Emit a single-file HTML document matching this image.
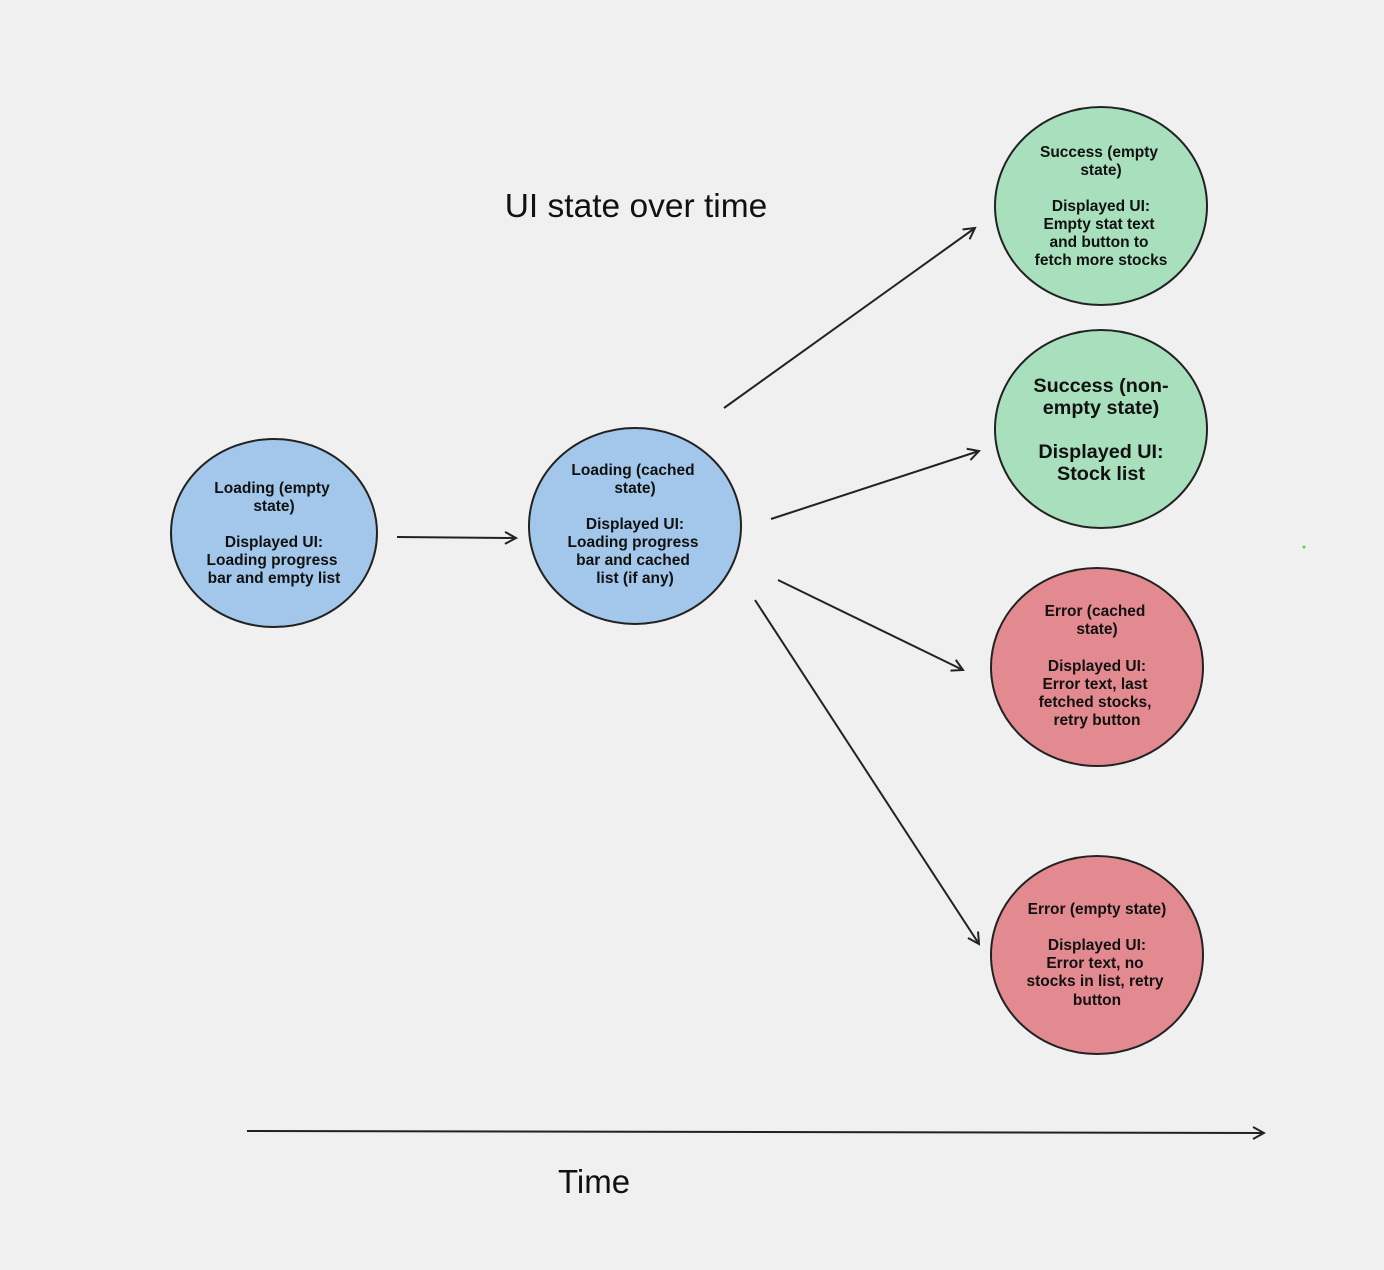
<!DOCTYPE html>
<html><head><meta charset="utf-8"><style>
html,body{margin:0;padding:0;background:#f0f0f0;}
svg{display:block;}
text{font-family:"Liberation Sans",Arial,sans-serif;fill:#111;}
.t{font-size:15.5px;font-weight:bold;text-anchor:middle;}
.b{font-size:19.8px;font-weight:bold;text-anchor:middle;}
</style></head><body>
<svg width="1384" height="1270" viewBox="0 0 1384 1270" xmlns="http://www.w3.org/2000/svg">
<defs><marker id="a" markerWidth="14" markerHeight="14" refX="12" refY="7" orient="auto" markerUnits="userSpaceOnUse"><path d="M1,1 L12,7 L1,13" fill="none" stroke="#222" stroke-width="2"/></marker></defs>
<rect width="1384" height="1270" fill="#f0f0f0"/>
<g stroke="#222" stroke-width="2" fill="none" marker-end="url(#a)">
<line x1="397" y1="537" x2="516" y2="538"/>
<line x1="724" y1="408" x2="975" y2="228"/>
<line x1="771" y1="519" x2="979" y2="451"/>
<line x1="778" y1="580" x2="963" y2="670"/>
<line x1="755" y1="600" x2="979" y2="944"/>
<line x1="247" y1="1131" x2="1264" y2="1133"/>
</g>
<g stroke="#222" stroke-width="2">
<ellipse cx="274" cy="533" rx="103" ry="94" fill="#a3c7ea"/>
<ellipse cx="635" cy="526" rx="106" ry="98" fill="#a3c7ea"/>
<ellipse cx="1101" cy="206" rx="106" ry="99" fill="#a8dfbd"/>
<ellipse cx="1101" cy="429" rx="106" ry="99" fill="#a8dfbd"/>
<ellipse cx="1097" cy="667" rx="106" ry="99" fill="#e38a91"/>
<ellipse cx="1097" cy="955" rx="106" ry="99" fill="#e38a91"/>
</g>
<circle cx="1304" cy="547" r="1.5" fill="#6c6"/>
<text x="636" y="217" style="font-size:33.5px;text-anchor:middle">UI state over time</text>
<text x="594" y="1193" style="font-size:33px;text-anchor:middle">Time</text>
<text class="t"><tspan x="272" y="493">Loading (empty</tspan><tspan x="274" y="511">state)</tspan><tspan x="274" y="547">Displayed UI:</tspan><tspan x="272" y="565">Loading progress</tspan><tspan x="274" y="583">bar and empty list</tspan></text>
<text class="t"><tspan x="633" y="475">Loading (cached</tspan><tspan x="635" y="493">state)</tspan><tspan x="635" y="529">Displayed UI:</tspan><tspan x="633" y="547">Loading progress</tspan><tspan x="633" y="565">bar and cached</tspan><tspan x="635" y="583">list (if any)</tspan></text>
<text class="t"><tspan x="1099" y="157">Success (empty</tspan><tspan x="1101" y="175">state)</tspan><tspan x="1101" y="211">Displayed UI:</tspan><tspan x="1099" y="229">Empty stat text</tspan><tspan x="1099" y="247">and button to</tspan><tspan x="1101" y="265">fetch more stocks</tspan></text>
<text class="b"><tspan x="1101" y="392">Success (non-</tspan><tspan x="1101" y="414">empty state)</tspan><tspan x="1101" y="458">Displayed UI:</tspan><tspan x="1101" y="480">Stock list</tspan></text>
<text class="t"><tspan x="1095" y="616">Error (cached</tspan><tspan x="1097" y="634">state)</tspan><tspan x="1097" y="671">Displayed UI:</tspan><tspan x="1095" y="689">Error text, last</tspan><tspan x="1095" y="707">fetched stocks,</tspan><tspan x="1097" y="725">retry button</tspan></text>
<text class="t"><tspan x="1097" y="914">Error (empty state)</tspan><tspan x="1097" y="950">Displayed UI:</tspan><tspan x="1095" y="968">Error text, no</tspan><tspan x="1095" y="986">stocks in list, retry</tspan><tspan x="1097" y="1005">button</tspan></text>
</svg>
</body></html>
